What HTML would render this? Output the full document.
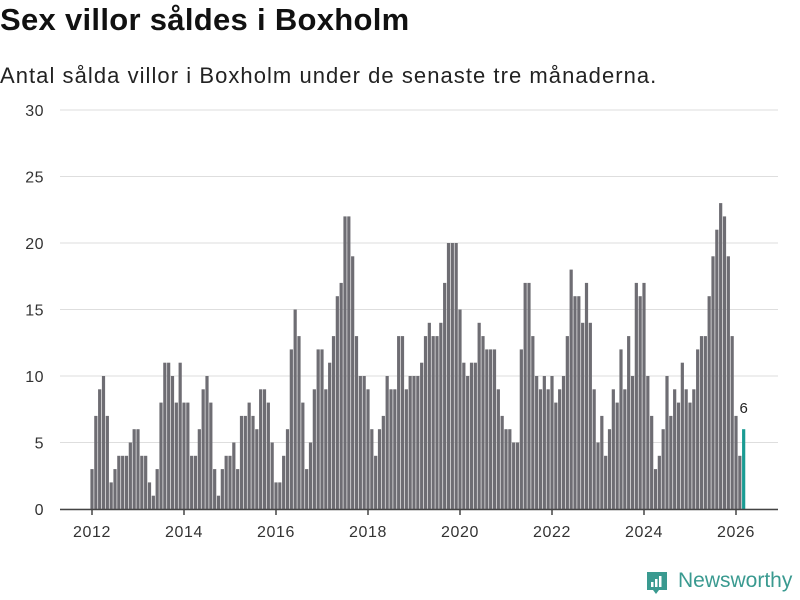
<!DOCTYPE html>
<html><head><meta charset="utf-8"><style>
body{margin:0;background:#fff;font-family:"Liberation Sans",sans-serif;}
#wrap{position:relative;width:800px;height:600px;overflow:hidden;background:#fff;}
h1{position:absolute;left:0;top:2px;margin:0;font-size:31px;font-weight:bold;color:#111;letter-spacing:0.3px;}
.sub{position:absolute;left:0;top:63px;font-size:22px;color:#222;letter-spacing:1.05px;}
</style></head><body>
<div id="wrap">
<h1>Sex villor såldes i Boxholm</h1>
<div class="sub">Antal sålda villor i Boxholm under de senaste tre månaderna.</div>
<svg id="chart" width="800" height="600" style="position:absolute;left:0;top:0"></svg>
<div style="position:absolute;left:645px;top:569px;width:150px;height:28px;">
<svg width="24" height="26" style="position:absolute;left:0;top:1px"><path d="M2 2h20v18h-8l-3 4-3-4H2z" fill="#3a9a90"/><rect x="6" y="12" width="2.5" height="5" fill="#fff"/><rect x="10" y="9" width="2.5" height="8" fill="#fff"/><rect x="14" y="6" width="2.5" height="11" fill="#fff"/></svg>
<span style="position:absolute;left:33px;top:0;font-size:21px;color:#3a9a90;">Newsworthy</span>
</div>
</div>
<script>
const startYear = 2012;
const values = [
3,7,9,10,7,2,3,4,4,4,5,6,
6,4,4,2,1,3,8,11,11,10,8,11,
8,8,4,4,6,9,10,8,3,1,3,4,
4,5,3,7,7,8,7,6,9,9,8,5,
2,2,4,6,12,15,13,8,3,5,9,12,
12,9,11,13,16,17,22,22,19,13,10,10,
9,6,4,6,7,10,9,9,13,13,9,10,
10,10,11,13,14,13,13,14,17,20,20,20,
15,11,10,11,11,14,13,12,12,12,9,7,
6,6,5,5,12,17,17,13,10,9,10,9,
10,8,9,10,13,18,16,16,14,17,14,9,
5,7,4,6,9,8,12,9,13,10,17,16,
17,10,7,3,4,6,10,7,9,8,11,9,
8,9,12,13,13,16,19,21,23,22,19,13,
7,4,6];
const yTicks = [0,5,10,15,20,25,30];
const xTicks = [2012,2014,2016,2018,2020,2022,2024,2026];

const NS="http://www.w3.org/2000/svg";
const svg=document.getElementById('chart');
const x0=92, monthW=46/12, yBase=509, yTop=110, yMax=30;
const xScale=m=>x0+m*monthW;
const yScale=v=>yBase-(v/yMax)*(yBase-yTop);
function el(t,a){const e=document.createElementNS(NS,t);for(const k in a)e.setAttribute(k,a[k]);svg.appendChild(e);return e;}
yTicks.forEach(t=>{
  const g=el('line',{x1:60,x2:778,y1:yScale(t),y2:yScale(t),stroke:'#dedede','stroke-width':1});
  
  
  const lb=el('text',{x:44,y:yScale(t)+6,'text-anchor':'end','font-size':16,'letter-spacing':0.5,fill:'#333','font-family':'Liberation Sans, sans-serif'});
  lb.textContent=t;
  
  
});
values.forEach((v,i)=>{
  const last=i===values.length-1;
  const cx=xScale(i);
  const b=el('rect',{x:cx-1.6,y:yScale(v),width:3.2,height:yBase-yScale(v),fill:last?'#1a9b93':'#6e6d73'});
  
  
  if(last){
    const t=el('text',{x:cx,y:yScale(v)-16,'text-anchor':'middle','font-size':15,fill:'#222','font-family':'Liberation Sans, sans-serif'});
    t.textContent=v;
    
    
  }
});
const ax=el('line',{x1:60,x2:778,y1:yBase+0.5,y2:yBase+0.5,stroke:'#444','stroke-width':1.5});


xTicks.forEach(y=>{
  const x=xScale((y-startYear)*12);
  const tk=el('line',{x1:x,x2:x,y1:yBase,y2:yBase+6,stroke:'#444','stroke-width':1.5});
  
  
  const lb=el('text',{x:x,y:537,'text-anchor':'middle','font-size':16,'letter-spacing':0.6,fill:'#333','font-family':'Liberation Sans, sans-serif'});
  lb.textContent=y;
  
  
});
</script>
</body></html>
